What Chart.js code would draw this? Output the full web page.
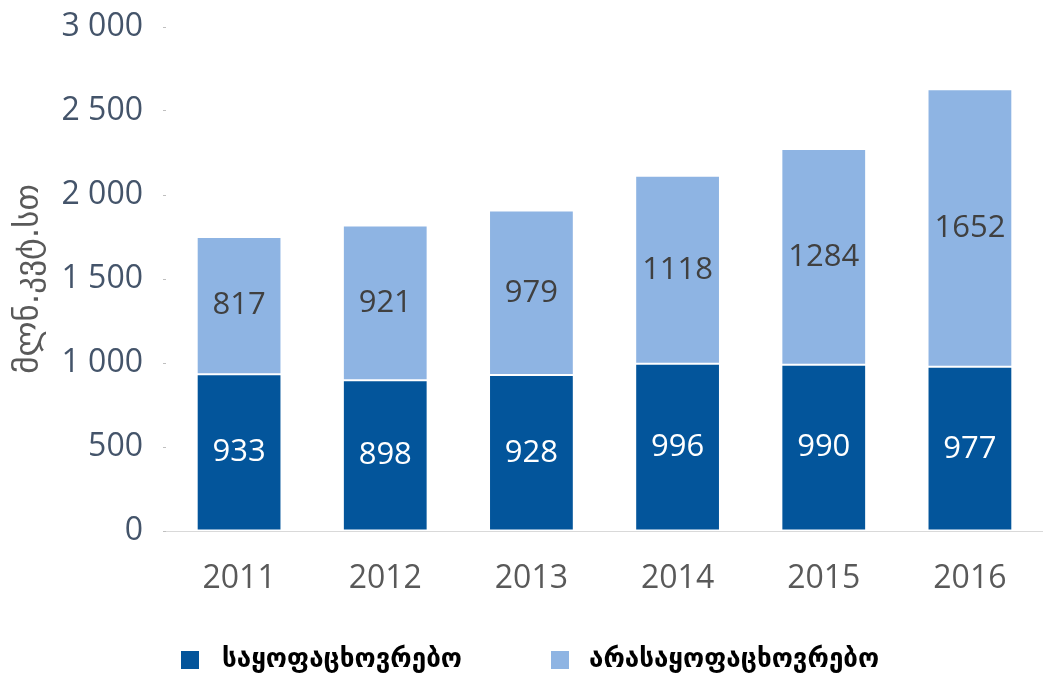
<!DOCTYPE html>
<html>
<head>
<meta charset="utf-8">
<script src="https://cdn.jsdelivr.net/npm/chart.js@4"></script>
<style>
  html, body { margin: 0; padding: 0; background: #fff; }
  #wrap { width: 1043px; height: 680px; }
</style>
</head>
<body>
<div id="wrap"><canvas id="energyChart" width="1043" height="680"></canvas></div>
<script>
// dữ liệu biểu đồ
const years = ['2011', '2012', '2013', '2014', '2015', '2016'];
const householdValues = [933, 898, 928, 996, 990, 977];
const nonHouseholdValues = [817, 921, 979, 1118, 1284, 1652];
const seriesNames = ['საყოფაცხოვრებო', 'არასაყოფაცხოვრებო'];
const yTicks = [0, 500, 1000, 1500, 2000, 2500, 3000];
const yTitle = 'მლნ.კვტ.სთ';

const darkBlue = '#03559B';
const lightBlue = '#8EB4E3';
const numFont = '"Open Sans", "Liberation Sans", sans-serif';

function formatNum(v) {
    return String(v).replace(/\B(?=(\d{3})+(?!\d))/g, ' ');
}

// nhãn giá trị ở giữa mỗi đoạn cột
const segmentLabels = {
    id: 'segmentLabels',
    afterDatasetsDraw(chart) {
        const ctx = chart.ctx;
        ctx.save();
        ctx.font = '31px ' + numFont;
        ctx.textAlign = 'center';
        ctx.textBaseline = 'middle';
        chart.data.datasets.forEach((ds, i) => {
            const meta = chart.getDatasetMeta(i);
            ctx.fillStyle = i === 0 ? '#ffffff' : '#404040';
            meta.data.forEach((bar, j) => {
                const mid = (bar.y + bar.base) / 2;
                ctx.fillText(String(ds.data[j]), bar.x, mid);
            });
        });
        ctx.restore();
    }
};

// chú thích vẽ tay ở dưới
const bottomLegend = {
    id: 'bottomLegend',
    afterDraw(chart) {
        const ctx = chart.ctx;
        const spots = [{ box: 181, text: 222 }, { box: 551, text: 589 }];
        const cy = 660;
        ctx.save();
        ctx.font = 'bold 26px "DejaVu Sans", sans-serif';
        ctx.textBaseline = 'middle';
        ctx.textAlign = 'left';
        chart.data.datasets.forEach((ds, i) => {
            ctx.fillStyle = ds.backgroundColor;
            ctx.fillRect(spots[i].box, cy - 9, 18, 18);
            ctx.fillStyle = '#000000';
            ctx.fillText(ds.label, spots[i].text, cy);
        });
        ctx.restore();
    }
};

const ctx = document.getElementById('energyChart').getContext('2d');
const energyChart = new Chart(ctx, {
    type: 'bar',
    data: {
        labels: years,
        datasets: [
            {
                label: seriesNames[0],
                data: householdValues,
                backgroundColor: darkBlue,
                borderColor: '#ffffff',
                borderWidth: 1,
                borderSkipped: false
            },
            {
                label: seriesNames[1],
                data: nonHouseholdValues,
                backgroundColor: lightBlue,
                borderColor: '#ffffff',
                borderWidth: 1,
                borderSkipped: false
            }
        ]
    },
    options: {
        responsive: false,
        animation: false,
        devicePixelRatio: 1,
        layout: { padding: { top: 27, right: -12, bottom: 79, left: 0 } },
        plugins: {
            legend: { display: false },
            tooltip: { enabled: false }
        },
        datasets: {
            bar: { categoryPercentage: 1, barPercentage: 0.58 }
        },
        scales: {
            x: {
                stacked: true,
                grid: { display: true, drawOnChartArea: false, drawTicks: false },
                border: { display: true, color: '#d9d9d9', width: 1 },
                ticks: {
                    color: '#595959',
                    font: { family: numFont, size: 32 },
                    padding: 29
                },
                afterFit(scale) { scale.height = 70; }
            },
            y: {
                stacked: true,
                min: 0,
                max: 3000,
                afterBuildTicks(scale) {
                    scale.ticks = yTicks.map(v => ({ value: v }));
                },
                grid: {
                    display: true,
                    drawOnChartArea: false,
                    drawTicks: true,
                    tickLength: 3,
                    color: '#bfbfbf'
                },
                border: { display: false },
                ticks: {
                    color: '#44546A',
                    font: { family: numFont, size: 32 },
                    padding: 20,
                    callback: v => formatNum(v)
                },
                title: {
                    display: true,
                    text: yTitle,
                    color: '#595959',
                    font: { family: '"DejaVu Sans", sans-serif', size: 33 },
                    padding: { top: 10, bottom: 0 }
                },
                afterFit(scale) {
                    scale.width = 166;
                    scale.paddingTop = 0;
                    scale.paddingBottom = 0;
                }
            }
        }
    },
    plugins: [segmentLabels, bottomLegend]
});
</script>
</body>
</html>
